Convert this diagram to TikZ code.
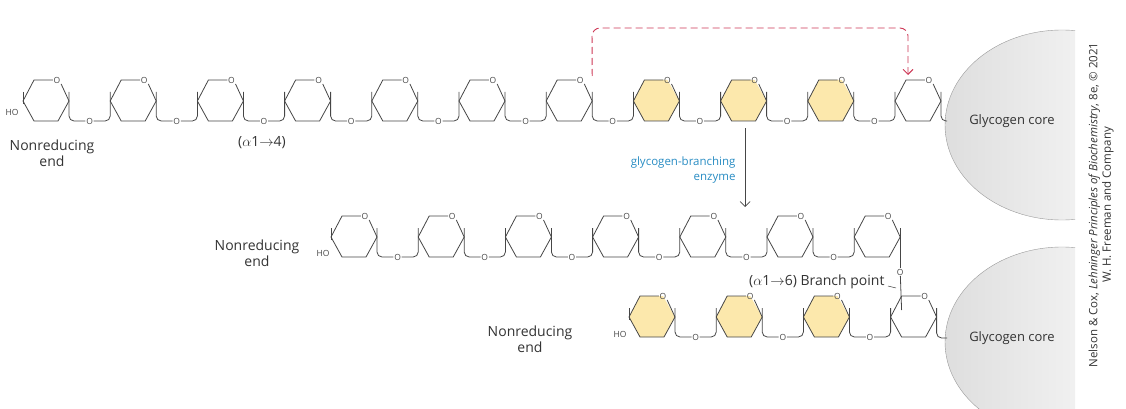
\documentclass[tikz,border=0pt]{standalone}
\usepackage{fontspec}
\setmainfont{Open Sans}
\usetikzlibrary{calc,arrows.meta}

\definecolor{bondgray}{RGB}{70,70,70}
\definecolor{newglc}{RGB}{252,232,172}
\definecolor{transfer}{RGB}{205,55,85}
\definecolor{enzblue}{RGB}{40,140,195}

\begin{document}
\begin{tikzpicture}[x=1pt,y=-1pt,
    bond/.style={draw=bondgray, line width=0.8pt},
    oxy/.style={inner sep=0.6pt, font=\fontsize{8.5}{8.5}\selectfont, text=bondgray},
    lbl/.style={font=\fontsize{14}{16.5}\selectfont, text=black!80, align=center},
    pics/sugar/.style={code={
        \fill[#1] (-12,-21) -- (11,-21) -- (23,0) -- (12,20) -- (-12,20) -- (-23,0) -- cycle;
        \node[oxy] (-o) at (11,-21) {O};
        \draw[bond] (-o.west) -- (-12,-21) -- (-23,0) -- (-12,20) -- (12,20) -- (23,0) -- (-o.south east);
        \coordinate (-L) at (-23,0);
        \coordinate (-R) at (23,0);
        \coordinate (-TL) at (-12,-21);
    }}]
  \useasboundingbox (0,0) rectangle (1126,409);

  % glycogen cores
  \begin{scope}
    \clip (930,0) rectangle (1075,409);
    \shade[left color=black!13, right color=white, draw=black!40, line width=0.4pt]
      (1062,125) ellipse (117 and 95);
    \shade[left color=black!13, right color=white, draw=black!40, line width=0.4pt]
      (1062,342) ellipse (117 and 95);
  \end{scope}
  \node[lbl, font=\fontsize{13}{15}\selectfont] (core1) at (1012,121) {Glycogen core};
  \node[lbl, font=\fontsize{13}{15}\selectfont] (core2) at (1012,338) {Glycogen core};
  \coordinate (end1) at (947,121);
  \coordinate (end2) at (947,338);

  % top chain
  \foreach \i in {1,...,11} {
    \ifnum\i>7 \ifnum\i<11 \def\col{newglc}\else\def\col{white}\fi \else\def\col{white}\fi
    \pic (t\i) at ({46+87.2*(\i-1)},101) {sugar=\col};
  }
  \foreach \i [evaluate=\i as \j using int(\i+1)] in {1,...,10} {
    \node[oxy] (to\i) at ($(t\i-R)!.5!(t\j-L)+(0,20)$) {O};
    \draw[bond, rounded corners=5pt] ($(t\i-R)+(0,-9)$) |- (to\i) -| ($(t\j-L)+(0,-9)$);
  }
  \draw[bond] ($(t1-L)+(0,-9)$) -- ($(t1-L)+(0,3)$);
  \draw[bond, rounded corners=5pt] ($(t11-R)+(0,-9)$) |- (end1);
  \node[oxy] (ho1) at (12,112) {HO};
  \node[lbl] (nr1) at (52,153) {Nonreducing\\end};
  \node[lbl] (a14) at (262,143) {($\alpha$1$\rightarrow$4)};

  % transfer of the outer segment
  \draw[transfer, dash pattern=on 7pt off 4pt, line width=0.9pt, rounded corners=8pt, -{Straight Barb[length=5pt]}]
    ($(t7-R)+(0,-25)$) -- (592,28) -- (908,28) -- (908,75);

  % enzyme step
  \coordinate (enzA) at (745,128);
  \coordinate (enzB) at (745,207);
  \draw[bondgray, line width=0.7pt, -{Straight Barb[length=5pt]}] (enzA) -- (enzB);
  \node[lbl, text=enzblue, font=\fontsize{11.5}{15}\selectfont, align=right, anchor=east] (enz) at (739,170) {glycogen-branching\\enzyme};

  % middle chain
  \foreach \i in {1,...,7} {
    \pic (m\i) at ({354+87.2*(\i-1)},237) {sugar=white};
  }
  \foreach \i [evaluate=\i as \j using int(\i+1)] in {1,...,6} {
    \node[oxy] (mo\i) at ($(m\i-R)!.5!(m\j-L)+(0,20)$) {O};
    \draw[bond, rounded corners=5pt] ($(m\i-R)+(0,-9)$) |- (mo\i) -| ($(m\j-L)+(0,-9)$);
  }
  \draw[bond] ($(m1-L)+(0,-9)$) -- ($(m1-L)+(0,3)$);
  \node[oxy] (ho2) at (323,253) {HO};
  \node[lbl] (nr2) at (257,253) {Nonreducing\\end};

  % bottom chain
  \foreach \i in {1,...,4} {
    \ifnum\i<4 \def\col{newglc}\else\def\col{white}\fi
    \pic (b\i) at ({652+87.2*(\i-1)},317) {sugar=\col};
  }
  \foreach \i [evaluate=\i as \j using int(\i+1)] in {1,...,3} {
    \node[oxy] (bo\i) at ($(b\i-R)!.5!(b\j-L)+(0,20)$) {O};
    \draw[bond, rounded corners=5pt] ($(b\i-R)+(0,-9)$) |- (bo\i) -| ($(b\j-L)+(0,-9)$);
  }
  \draw[bond] ($(b1-L)+(0,-9)$) -- ($(b1-L)+(0,3)$);
  \draw[bond, rounded corners=5pt] ($(b4-R)+(0,-9)$) |- (end2);
  \node[oxy] (ho3) at (620,334) {HO};
  \node[lbl] (nr3) at (530,339) {Nonreducing\\end};

  % branch point
  \node[oxy] (brO) at (m7-R |- 0,272) {O};
  \draw[bond] ($(m7-R)+(0,-9)$) -- (brO);
  \draw[bond] (brO) -- ($(b4-TL)+(0,14)$);
  \node[lbl, anchor=east] (brlbl) at (888,282) {($\alpha$1$\rightarrow$6) Branch point};
  \draw[bond, line width=0.5pt] (brlbl.east) ++(0,4) -- ++(8,2);

  % credit
  \node[lbl, rotate=90, font=\fontsize{11.5}{13.5}\selectfont] (credit) at (1101,205)
    {Nelson \& Cox, \emph{Lehninger Principles of Biochemistry}, 8e, © 2021\\W. H. Freeman and Company};
\end{tikzpicture}
\end{document}
